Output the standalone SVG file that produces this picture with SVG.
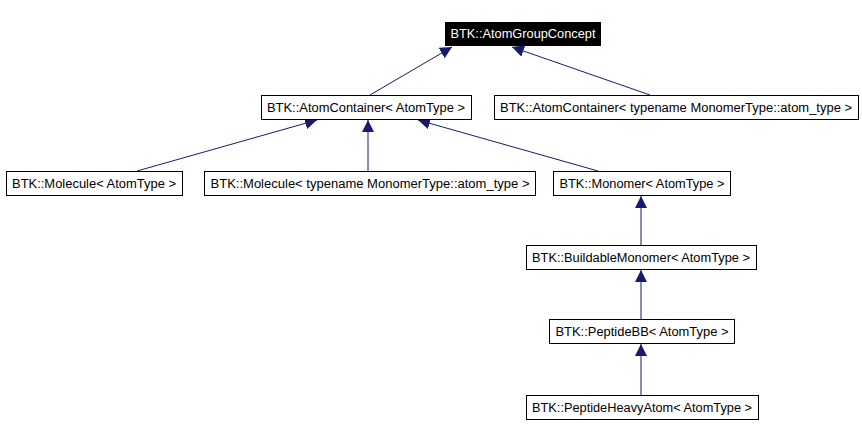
<svg xmlns="http://www.w3.org/2000/svg" width="862" height="435" viewBox="0 0 862 435">
<defs>
<style>
.n{fill:#fff;stroke:#000;stroke-width:1}
.t{font-family:"Liberation Sans",Arial,sans-serif;font-size:12px;fill:#000}
.e{stroke:#191970;stroke-width:1;fill:none}
</style>
<marker id="a" viewBox="0 0 10 10" refX="10" refY="5" markerWidth="12" markerHeight="12" markerUnits="userSpaceOnUse" orient="auto"><path d="M0,0L10,5L0,10z" fill="#191970"/></marker>
</defs>
<rect width="862" height="435" fill="#fff"/>
<g id="edges">
<line class="e" x1="370" y1="95" x2="452" y2="47" marker-end="url(#a)"/>
<line class="e" x1="650" y1="95" x2="512" y2="47" marker-end="url(#a)"/>
<line class="e" x1="137" y1="171" x2="317" y2="120" marker-end="url(#a)"/>
<line class="e" x1="368" y1="171" x2="368" y2="120" marker-end="url(#a)"/>
<line class="e" x1="598" y1="171" x2="418" y2="120" marker-end="url(#a)"/>
<line class="e" x1="641" y1="245" x2="641" y2="196" marker-end="url(#a)"/>
<line class="e" x1="641" y1="319" x2="641" y2="270" marker-end="url(#a)"/>
<line class="e" x1="641" y1="395" x2="641" y2="344" marker-end="url(#a)"/>
</g>
<g id="n0"><rect x="445.5" y="22.5" width="155" height="23" fill="#000" stroke="#000"/><text class="t" x="523" y="38" text-anchor="middle" fill="#fff" style="fill:#fff" textLength="145" lengthAdjust="spacingAndGlyphs">BTK::AtomGroupConcept</text></g>
<g id="n1"><rect class="n" x="261.5" y="95.5" width="210" height="24"/><text class="t" x="366" y="112" text-anchor="middle" textLength="198" lengthAdjust="spacingAndGlyphs">BTK::AtomContainer&lt; AtomType &gt;</text></g>
<g id="n2"><rect class="n" x="494.5" y="95.5" width="364" height="24"/><text class="t" x="676" y="112" text-anchor="middle" textLength="352" lengthAdjust="spacingAndGlyphs">BTK::AtomContainer&lt; typename MonomerType::atom_type &gt;</text></g>
<g id="n3"><rect class="n" x="6.5" y="171.5" width="176" height="24"/><text class="t" x="94" y="188" text-anchor="middle" textLength="164" lengthAdjust="spacingAndGlyphs">BTK::Molecule&lt; AtomType &gt;</text></g>
<g id="n4"><rect class="n" x="204.5" y="171.5" width="331" height="24"/><text class="t" x="370" y="188" text-anchor="middle" textLength="319" lengthAdjust="spacingAndGlyphs">BTK::Molecule&lt; typename MonomerType::atom_type &gt;</text></g>
<g id="n5"><rect class="n" x="553.5" y="171.5" width="177" height="24"/><text class="t" x="642" y="188" text-anchor="middle" textLength="165" lengthAdjust="spacingAndGlyphs">BTK::Monomer&lt; AtomType &gt;</text></g>
<g id="n6"><rect class="n" x="526.5" y="245.5" width="230" height="24"/><text class="t" x="641" y="262" text-anchor="middle" textLength="218" lengthAdjust="spacingAndGlyphs">BTK::BuildableMonomer&lt; AtomType &gt;</text></g>
<g id="n7"><rect class="n" x="549.5" y="319.5" width="185" height="24"/><text class="t" x="642" y="336" text-anchor="middle" textLength="173" lengthAdjust="spacingAndGlyphs">BTK::PeptideBB&lt; AtomType &gt;</text></g>
<g id="n8"><rect class="n" x="526.5" y="395.5" width="232" height="24"/><text class="t" x="642" y="412" text-anchor="middle" textLength="220" lengthAdjust="spacingAndGlyphs">BTK::PeptideHeavyAtom&lt; AtomType &gt;</text></g>
</svg>
